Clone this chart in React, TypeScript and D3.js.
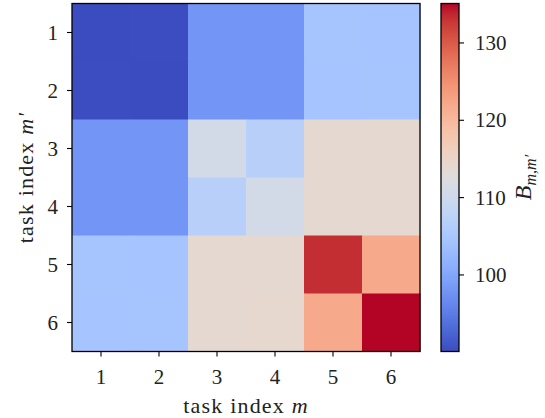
import React from "react";
import * as d3 from "d3";

const taskIndices = [1, 2, 3, 4, 5, 6];
const row1 = [90.1, 90.2, 98.0, 98.0, 104.6, 104.5];
const row2 = [90.2, 90.1, 98.0, 98.0, 104.5, 104.6];
const row3 = [98.0, 98.0, 110.8, 107.0, 114.1, 114.0];
const row4 = [98.0, 98.0, 107.0, 110.8, 114.0, 114.1];
const row5 = [104.6, 104.5, 114.1, 114.0, 133.3, 122.0];
const row6 = [104.5, 104.6, 114.0, 114.2, 122.0, 135.1];
const matrix = [row1, row2, row3, row4, row5, row6];
const colorbarTicks = [100, 110, 120, 130];

// Moreland coolwarm control points
const coolwarmStops = [
  [59, 76, 192], [68, 90, 204], [77, 104, 215], [87, 117, 225], [98, 130, 234],
  [108, 142, 241], [119, 154, 247], [130, 165, 251], [141, 176, 254], [152, 185, 255],
  [163, 194, 255], [174, 201, 253], [184, 208, 249], [194, 213, 244], [204, 217, 238],
  [213, 219, 230], [221, 221, 221], [229, 216, 209], [236, 211, 197], [241, 204, 185],
  [245, 196, 173], [247, 187, 160], [247, 177, 148], [247, 166, 135], [244, 154, 123],
  [241, 141, 111], [236, 127, 99], [229, 112, 88], [222, 96, 77], [213, 80, 66],
  [203, 62, 56], [192, 40, 47], [180, 4, 38],
];

const W = 545;
const H = 418;
const plot = { left: 72, right: 420, top: 3.5, bottom: 351.5 };
const cbar = { left: 441, right: 459 };
const FONT = "'Liberation Serif', 'Times New Roman', serif";

export default function App() {
  const interp = d3.piecewise(
    d3.interpolateRgb,
    coolwarmStops.map((c) => `rgb(${c[0]},${c[1]},${c[2]})`)
  );
  const all = matrix.flat();
  const vmin = d3.min(all) as number;
  const vmax = d3.max(all) as number;
  const color = d3.scaleSequential(interp).domain([vmin, vmax]);

  const x = d3
    .scaleBand<number>()
    .domain(taskIndices)
    .range([plot.left, plot.right])
    .padding(0);
  const y = d3
    .scaleBand<number>()
    .domain(taskIndices)
    .range([plot.top, plot.bottom])
    .padding(0);
  const cy = d3.scaleLinear().domain([vmin, vmax]).range([plot.bottom, plot.top]);

  const gradStops = d3.range(0, 1.0001, 1 / 64);

  return (
    <svg
      width={W}
      height={H}
      style={{ position: "absolute", left: 0, top: 0, background: "#fff" }}
      fontFamily={FONT}
    >
      <defs>
        <linearGradient id="cw" x1="0" y1="1" x2="0" y2="0">
          {gradStops.map((t, i) => (
            <stop key={i} offset={t} stopColor={interp(t)} />
          ))}
        </linearGradient>
      </defs>

      {/* heatmap cells */}
      {matrix.map((row, ri) =>
        row.map((v, ci) => (
          <rect
            key={`${ri}-${ci}`}
            x={x(taskIndices[ci])}
            y={y(taskIndices[ri])}
            width={x.bandwidth() + 0.5}
            height={y.bandwidth() + 0.5}
            fill={color(v)}
          />
        ))
      )}
      <rect
        x={plot.left}
        y={plot.top}
        width={plot.right - plot.left}
        height={plot.bottom - plot.top}
        fill="none"
        stroke="#000"
        strokeWidth={1.3}
      />

      {/* x axis */}
      {taskIndices.map((t) => {
        const cx = (x(t) as number) + x.bandwidth() / 2;
        return (
          <g key={`xt${t}`}>
            <line x1={cx} x2={cx} y1={plot.bottom} y2={plot.bottom + 5} stroke="#000" strokeWidth={1.1} />
            <text x={cx} y={384} textAnchor="middle" fontSize={21} fill="#222">
              {t}
            </text>
          </g>
        );
      })}
      <text
        x={(plot.left + plot.right) / 2}
        y={413}
        textAnchor="middle"
        fontSize={22}
        letterSpacing={1.2}
        fill="#222"
      >
        task index <tspan fontStyle="italic">m</tspan>
      </text>

      {/* y axis */}
      {taskIndices.map((t) => {
        const cyy = (y(t) as number) + y.bandwidth() / 2;
        return (
          <g key={`yt${t}`}>
            <line x1={plot.left - 5} x2={plot.left} y1={cyy} y2={cyy} stroke="#000" strokeWidth={1.1} />
            <text x={58} y={cyy + 7} textAnchor="end" fontSize={21} fill="#222">
              {t}
            </text>
          </g>
        );
      })}
      <text
        transform={`translate(33, ${(plot.top + plot.bottom) / 2}) rotate(-90)`}
        textAnchor="middle"
        fontSize={22}
        letterSpacing={1.2}
        fill="#222"
      >
        task index <tspan fontStyle="italic">m′</tspan>
      </text>

      {/* colorbar */}
      <rect
        x={cbar.left}
        y={plot.top}
        width={cbar.right - cbar.left}
        height={plot.bottom - plot.top}
        fill="url(#cw)"
        stroke="#000"
        strokeWidth={1.3}
      />
      {colorbarTicks.map((t) => (
        <g key={`ct${t}`}>
          <line x1={cbar.right} x2={cbar.right + 5} y1={cy(t)} y2={cy(t)} stroke="#000" strokeWidth={1.1} />
          <text x={475} y={cy(t) + 7} textAnchor="start" fontSize={21} fill="#222">
            {t}
          </text>
        </g>
      ))}
      <text
        transform={`translate(531, ${(plot.top + plot.bottom) / 2}) rotate(-90)`}
        textAnchor="middle"
        fontSize={24}
        fill="#222"
      >
        <tspan fontStyle="italic">B</tspan>
        <tspan fontStyle="italic" fontSize={16} dy={5}>m,m′</tspan>
      </text>
    </svg>
  );
}
